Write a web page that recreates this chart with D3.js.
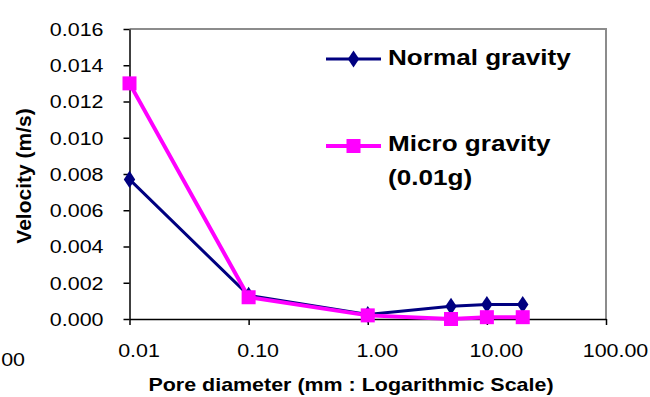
<!DOCTYPE html>
<html>
<head>
<meta charset="utf-8">
<script src="https://cdn.jsdelivr.net/npm/d3@7"></script>
<style>
  body { margin: 0; background: #fff; }
  svg text { font-family: "Liberation Sans", Arial, sans-serif; fill: #000; }
</style>
</head>
<body>
<svg width="650" height="397"></svg>
<script>
// data
const poreDiameter = [0.01, 0.1, 1, 5, 10, 20];
const normalGravity = [0.0077, 0.0013, 0.00025, 0.0007, 0.0008, 0.0008];
const microGravity = [0.0130, 0.0012, 0.0002, 0.0000, 0.0001, 0.0001];
const xTicks = [0.01, 0.1, 1, 10, 100];
const yTicks = [0, 0.002, 0.004, 0.006, 0.008, 0.010, 0.012, 0.014, 0.016];
const seriesNames = ["Normal gravity", "Micro gravity"];

const svg = d3.select("svg");
const stretch = 1.16; // the source picture is a little wider than tall

const x = d3.scaleLog().domain([0.01, 100]).range([129.5, 606]);
const y = d3.scaleLinear().domain([0, 0.016]).range([319, 29]);

// grey frame top + right
svg.append("path")
  .attr("d", `M${x(0.01)},${y(0.016)}H${x(100)}V${y(0)}`)
  .attr("fill", "none")
  .attr("stroke", "#8c8c8c")
  .attr("stroke-width", 2);

// axes
const yAxis = svg.append("g")
  .attr("transform", `translate(${x(0.01)},0)`)
  .call(d3.axisLeft(y).tickValues(yTicks).tickSize(6).tickSizeOuter(0).tickFormat(d3.format(".3f")));
yAxis.selectAll("text")
  .attr("x", 0).attr("dy", "0.35em")
  .attr("text-anchor", "end")
  .attr("transform", `translate(-26,0) scale(${stretch},1)`)
  .style("font-size", "18.5px");

const xAxis = svg.append("g")
  .attr("transform", `translate(0,${y(0)})`)
  .call(d3.axisBottom(x).tickValues(xTicks).tickSize(6).tickSizeOuter(0).tickFormat(d3.format(".2f")));
xAxis.selectAll("text")
  .attr("y", 0).attr("dy", 0)
  .attr("text-anchor", "middle")
  .attr("transform", `translate(9,38) scale(${stretch},1)`)
  .style("font-size", "18.5px");

[yAxis, xAxis].forEach(a => {
  a.selectAll("path, line").attr("stroke", "#000").attr("stroke-width", 1.5);
});

// label of the neighbouring chart, cut by the left edge as in the source
svg.append("text")
  .attr("text-anchor", "end")
  .attr("transform", `translate(25,366) scale(${stretch},1)`)
  .style("font-size", "18.5px")
  .text("1.00");

// axis titles
svg.append("text")
  .attr("text-anchor", "middle")
  .attr("transform", `translate(351,391) scale(${stretch},1)`)
  .style("font-size", "18.5px")
  .style("font-weight", "bold")
  .text("Pore diameter (mm : Logarithmic Scale)");

svg.append("text")
  .attr("text-anchor", "middle")
  .attr("transform", "translate(31,176) rotate(-90)")
  .style("font-size", "21px")
  .style("font-weight", "bold")
  .text("Velocity (m/s)");

// series
const line = d3.line().x(d => x(d[0])).y(d => y(d[1]));
const normal = poreDiameter.map((d, i) => [d, normalGravity[i]]);
const micro = poreDiameter.map((d, i) => [d, microGravity[i]]);

const diamond = d3.symbol().type(d3.symbolDiamond).size(85);

svg.append("path").datum(normal)
  .attr("d", line).attr("fill", "none")
  .attr("stroke", "#000080").attr("stroke-width", 3);
svg.append("path").datum(micro)
  .attr("d", line).attr("fill", "none")
  .attr("stroke", "#ff00ff").attr("stroke-width", 4);

svg.selectAll(".dia").data(normal).enter().append("path")
  .attr("class", "dia")
  .attr("transform", d => `translate(${x(d[0])},${y(d[1])}) scale(1.15,1)`)
  .attr("d", diamond)
  .attr("fill", "#000080");

svg.selectAll(".sq").data(micro).enter().append("rect")
  .attr("class", "sq")
  .attr("x", d => x(d[0]) - 7)
  .attr("y", d => y(d[1]) - 7)
  .attr("width", 14).attr("height", 14)
  .attr("fill", "#ff00ff");

// legend
const lg = svg.append("g");
lg.append("line").attr("x1", 326).attr("x2", 381).attr("y1", 59).attr("y2", 59)
  .attr("stroke", "#000080").attr("stroke-width", 3);
lg.append("path").attr("transform", "translate(353.5,59) scale(1.15,1)").attr("d", diamond).attr("fill", "#000080");
lg.append("line").attr("x1", 326).attr("x2", 381).attr("y1", 146).attr("y2", 146)
  .attr("stroke", "#ff00ff").attr("stroke-width", 4);
lg.append("rect").attr("x", 346.5).attr("y", 139).attr("width", 14).attr("height", 14).attr("fill", "#ff00ff");

lg.append("text")
  .attr("transform", `translate(388,65) scale(${stretch},1)`)
  .style("font-size", "22.5px").style("font-weight", "bold")
  .text(seriesNames[0]);
lg.append("text")
  .attr("transform", `translate(388,151) scale(${stretch},1)`)
  .style("font-size", "22.5px").style("font-weight", "bold")
  .text(seriesNames[1]);
lg.append("text")
  .attr("transform", `translate(388,185) scale(${stretch},1)`)
  .style("font-size", "22.5px").style("font-weight", "bold")
  .text("(0.01g)");
</script>
</body>
</html>
